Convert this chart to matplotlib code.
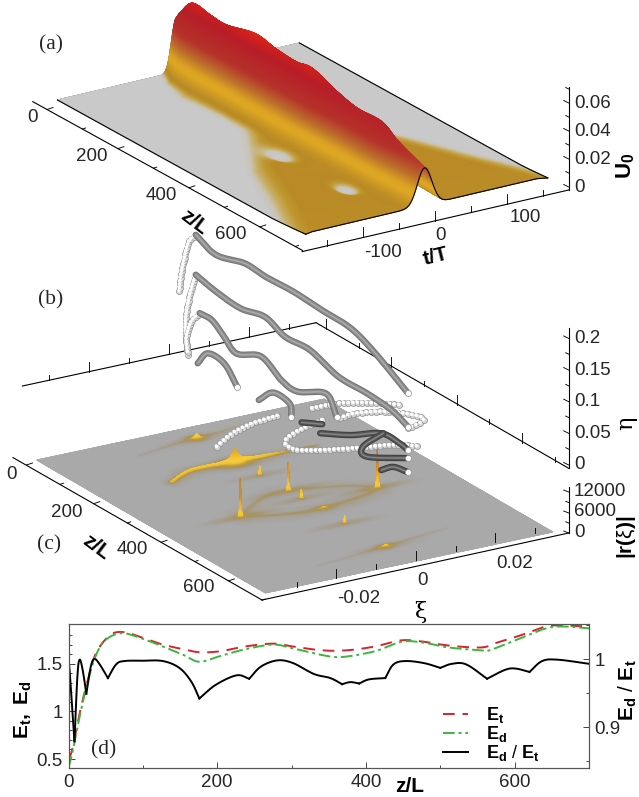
import numpy as np
import matplotlib
matplotlib.use("Agg")
import matplotlib.pyplot as plt
from matplotlib.colors import LinearSegmentedColormap, Normalize
from matplotlib.lines import Line2D

plt.rcParams['font.family'] = ['Liberation Sans', 'DejaVu Sans']
plt.rcParams['mathtext.fontset'] = 'custom'
plt.rcParams['mathtext.rm'] = 'Liberation Sans'
plt.rcParams['mathtext.bf'] = 'Liberation Sans:bold'
plt.rcParams['mathtext.it'] = 'Liberation Sans:italic'

# ---------- (a) soliton surface ----------
a_ridge_z = [0, 15, 46, 94, 140, 221, 278, 336, 382, 451, 508, 577, 623, 692, 700]
a_ridge_U = [.039, .046, .0562, .0545, .0538, .059, .0563, .055, .0567, .0497, .0458, .0458, .038, .030, .0297]
a_sigma_z = [0, 40, 100, 700]
a_sigma = [6.5, 10, 11, 10]
a_wing_z = [0, 40, 100, 200, 270, 350, 430, 550, 700]
a_wing_t = [12, 36, 50, 42, 46, 80, 116, 150, 198]
a_hole_t = [-54, -49]
a_hole_z = [392, 572]
a_hole_st = [17, 14]
a_hole_sz = [42, 30]
a_ticks_z = [0, 200, 400, 600]
a_ticks_t = [-100, 0, 100]
a_ticks_U = [0, .02, .04, .06]

# ---------- (b) eigenvalue tracks (z/L, eta) ----------
tube_1 = ([47, 109, 197, 259, 346, 434, 521, 596, 696], [.211, .198, .211, .209, .211, .208, .206, .189, .156])
beads_1 = ([-3, 1, 9, 25, 47], [.107, .130, .154, .192, .211])
tube_2 = ([47, 109, 184, 259, 321, 396, 484, 571, 646, 696], [.148, .140, .136, .145, .132, .134, .118, .118, .114, .103])
beads_2 = ([22, 16, 28, 47], [.014, .062, .108, .148])
tube_3 = ([59, 97, 134, 172, 247, 309, 359, 446, 478], [.091, .091, .076, .061, .079, .060, .057, .080, .053])
beads_3 = ([22, 19, 34, 59], [.019, .042, .070, .091])
loop_3 = ([434, 346, 321, 371, 521, 646, 733], [.035, -.013, -.036, -.032, .016, .059, .083])
tube_4a = ([53, 84, 134, 174], [.010, .035, .034, .009])
tube_4b = ([240, 284, 334, 340], [.008, .033, .031, .012])
beads_4 = ([297, 222, 159, 109], [.0003, -.034, -.069, -.106])
row_1 = ([403, 484, 571, 671], [.044, .076, .103, .130])
row_2 = ([696, 740, 733, 634, 534, 484], [.100, .124, .130, .108, .075, .052])
dark_e = ([371, 434], [.012, .028])
dark_f = ([428, 521, 615, 671, 696], [.012, .037, .068, .069, .066])
dark_g = ([621, 559, 571, 696], [.070, .030, .018, .053])
dark_h = ([615, 652, 696], [.010, .026, .031])
b_ticks_eta = [0, .05, .1, .15, .2]
b_tick_labels = ['0', '0.05', '0.1', '0.15', '0.2']

# ---------- (c) |r(xi)| peaks (xi, z/L, height, xi width, z width) ----------
c_peak_xi = [-.0168, .0002, .0176, -.0001, .0002, .0003, .0004, .0013, -.0007, 0.0]
c_peak_z = [389, 328, 388, 244, 368, 499, 622, 423, 176, 50]
c_peak_h = [11500, 8500, 11500, 3000, 3000, 2500, 800, 600, 3600, 1500]
c_peak_wx = [.0003, .0003, .0003, .00035, .00035, .00035, .0012, .0011, .0016, .0011]
c_peak_wz = [2, 2, 2, 2.4, 2.4, 2.4, 5, 5, 8, 6]
c_halo = [60, 50, 60, 30, 35, 40, 20, 15, 20, 25]
arc_upper_xi = [-.0168, -.0075, 0, .0125, .0176]
arc_upper_z = [389, 338, 328, 356, 388]
arc_lower_z = [389, 416, 423, 408, 388]
arc_top_xi = [-.0187, -.0112, -.0007, .0057, .0117, .020]
arc_top_z = [200, 172, 176, 177, 176, 176]
arc_top_h = [500, 800, 1000, 800, 350, 40]
faint_back_xi = [-.016, -.006, 0, .006, .016]
faint_back_z = [70, 55, 50, 45, 30]
faint_back_h = [18, 35, 45, 35, 12]
faint_front_xi = [-.018, -.008, .0004, .008, .018]
faint_front_z = [640, 630, 622, 612, 600]
faint_front_h = [10, 22, 50, 30, 8]
c_ticks_xi = [-.02, 0, .02]
c_ticks_z = [0, 200, 400, 600]

# ---------- (d) energies ----------
d_z_t = [0, 5, 15, 26, 37, 56, 75, 100, 127, 155, 176, 204, 237, 275, 302, 341, 374, 412, 448, 478, 511, 555, 576, 609, 642, 664, 700]
E_t = [.50, .60, .98, 1.33, 1.61, 1.80, 1.83, 1.77, 1.70, 1.65, 1.62, 1.63, 1.68, 1.71, 1.68, 1.64, 1.64, 1.68, 1.745, 1.73, 1.69, 1.67, 1.72, 1.80, 1.89, 1.90, 1.89]
d_z_d = [0, 5, 15, 26, 37, 50, 72, 100, 127, 155, 176, 204, 237, 275, 302, 341, 368, 412, 448, 478, 511, 555, 566, 609, 642, 664, 700]
E_d = [.41, .56, .95, 1.31, 1.59, 1.75, 1.82, 1.76, 1.68, 1.59, 1.52, 1.58, 1.65, 1.70, 1.66, 1.59, 1.57, 1.63, 1.73, 1.72, 1.67, 1.64, 1.64, 1.77, 1.87, 1.89, 1.87]
d_z_r = [0, 2, 8, 12, 15, 19, 24, 30, 35, 42, 53, 64, 75, 100, 127, 149, 165, 176, 198, 226, 243, 259, 281, 302, 330, 352, 368, 379, 391, 404, 426, 437, 453, 478, 500, 516, 535, 563, 587, 601, 620, 637, 658, 700]
E_ratio = [1.0, .975, .879, .975, .999, .984, .949, .989, 1.0, .992, .972, .992, .997, .9975, .997, .987, .967, .942, .962, .976, .971, .989, .998, .994, .978, .972, .963, .966, .964, .970, .972, .992, .997, .994, .987, .993, .992, .971, .984, .986, .981, .997, .999, .993]
d_cusps = [8, 24, 53, 176, 243, 368, 391, 426, 500, 563, 620]

TICK_FS = 13.5
BOLD_FS = 15


def smooth(x, y, n=14):
    """Catmull-Rom rendering of a read polyline."""
    p = np.column_stack([x, y]).astype(float)
    p = np.vstack([2 * p[0] - p[1], p, 2 * p[-1] - p[-2]])
    s = np.linspace(0, 1, n, endpoint=False)[:, None]
    out = []
    for i in range(1, len(p) - 2):
        a, b, c, d = p[i - 1], p[i], p[i + 1], p[i + 2]
        out.append(.5 * (2 * b + (c - a) * s + (2 * a - 5 * b + 4 * c - d) * s**2 + (3 * b - a - 3 * c + d) * s**3))
    out.append(p[-2][None, :])
    out = np.vstack(out)
    return out[:, 0], out[:, 1]


fig = plt.figure(figsize=(6.39, 7.97), dpi=100)
ax = fig.add_axes([0, 0, 1, 1])
ax.set_xlim(0, 639)
ax.set_ylim(797, 0)
ax.axis('off')

LW = .8
TXT = '#262626'


# projections of the three oblique 3-D boxes onto the page
def proj_a(t, z, u=0):
    t, z, u = map(np.asarray, (t, z, u))
    return 178.5 + .7203 * t + .3547 * z, 71.5 - .1696 * t + .1957 * z - 1385 * u


def proj_c(xi, z, r=0):
    xi, z, r = map(np.asarray, (xi, z, r))
    return 180.4 + 3992 * xi + .3267 * z, 429.5 - 847 * xi + .19 * z - r * 40 / 12000


def proj_b(z, eta):
    z, eta = map(np.asarray, (z, eta))
    return 180.4 + .3267 * z, 359.5 + .19 * z - 633 * eta


# ---- panel (a)
t = np.linspace(-168, 168, 520)[::-1]
z = np.linspace(0, 700, 420)
T, Z = np.meshgrid(t, z)
zs, us = smooth(a_ridge_z, a_ridge_U, 10)
hgt = np.interp(z, zs, us)
sig = np.interp(z, a_sigma_z, a_sigma)
prof = np.exp(-.5 * ((T + 3) / sig[:, None])**2)
wing = np.interp(z, a_wing_z, a_wing_t)
level = np.interp(z, [0, 300, 700], [.0045, .0035, .0028])
edge = np.clip((wing[:, None] - np.abs(T + 3)) / 42, 0, 1)
U_p = level[:, None] * edge**1.4
for ht, hz, st, sz in zip(a_hole_t, a_hole_z, a_hole_st, a_hole_sz):
    d2 = ((T - ht) / st)**2 + ((Z - hz) / sz)**2
    U_p = U_p * (1 - np.exp(-(d2 / 1.2)**1.6))
U = hgt[:, None] * prof + U_p * (1 - prof)
Px, Py = proj_a(T, Z, U)
stops = [(0, '#c9c9c9'), (.0004, '#c9c4b2'), (.0009, '#c7b068'), (.0018, '#bf982f'), (.003, '#b98a26'), (.011, '#dfa822'),
         (.015, '#dca424'), (.023, '#bb6e2c'), (.033, '#b5322a'), (.05, '#b81e28'), (.056, '#cf201e'), (.065, '#e8381a')]
cm_a = LinearSegmentedColormap.from_list('a', [(s / .065, c) for s, c in stops], N=1024)
ax.plot(Px[0], Py[0], color='k', lw=LW, zorder=1)
ax.pcolormesh(Px, Py, U, shading='gouraud', cmap=cm_a, norm=Normalize(0, .065), zorder=2)
ax.plot(Px[-1], Py[-1], color='k', lw=LW, zorder=3)
ax.plot(Px[:, 0], Py[:, 0], color='k', lw=LW, zorder=3)
ax.plot(Px[:, -1], Py[:, -1], color='k', lw=LW, zorder=3)

# axes of (a)
ax.plot([47 + .3547 * -40, 47 + .3547 * 720], [109.5 + .1957 * -40, 109.5 + .1957 * 720], color='k', lw=LW)
for v in np.arange(0, 720, 100):
    L = 1 if v in a_ticks_z else .55
    xx, yy = 47 + .3547 * v, 109.5 + .1957 * v
    ax.plot([xx, xx + 6 * L], [yy, yy - 2 * L], color='k', lw=LW * .8)
for v, (lx, ly) in zip(a_ticks_z, [(33, 117), (92, 156), (161, 195), (231, 234)]):
    ax.text(lx, ly, str(v), ha='center', va='center', fontsize=TICK_FS, color=TXT)
ax.plot([435.4 + .7203 * -185, 435.4 + .7203 * 185], [220.8 + .2311 * .7203 * 185, 220.8 - .2311 * .7203 * 185], color='k', lw=LW)
for v in np.arange(-150, 151, 50):
    xx, yy = 435.4 + .7203 * v, 220.8 - .1665 * v
    L = 10 if v in a_ticks_t else 6
    ax.plot([xx, xx], [yy, yy - L], color='k', lw=LW * .8)
for v, (lx, ly) in zip(a_ticks_t, [(383, 252), (441, 235), (525, 217)]):
    ax.text(lx, ly, str(v), ha='center', va='center', fontsize=TICK_FS, color=TXT)
ax.plot([568.7, 568.7], [190, 86.7], color='k', lw=LW)
for v in np.arange(0, .0701, .01):
    yy = 187 - 1400 * v
    L = 5 if round(v * 100) % 2 == 0 else 3
    ax.plot([568.7, 568.7 - L], [yy, yy - L * .5], color='k', lw=LW * .8)
for v, ly in zip(a_ticks_U, [187, 159, 131, 103]):
    ax.text(574, ly, f'{v:g}', ha='left', va='center', fontsize=TICK_FS, color=TXT)
ax.text(626, 166, r'$\mathbf{U_0}$', rotation=90, ha='center', va='center', fontsize=BOLD_FS + 1)
ax.text(194, 222, 'z/L', rotation=-37, ha='center', va='center', fontsize=BOLD_FS, fontweight='bold', rotation_mode='anchor')
ax.text(436, 257, 't/T', rotation=14, ha='center', va='center', fontsize=BOLD_FS, fontweight='bold', rotation_mode='anchor')

# ---- panel (c)
xi_base = np.linspace(-.036, .036, 420)
z_base = np.linspace(0, 700, 320)
xi_c = np.unique(np.concatenate([xi_base] + [x + np.linspace(-.004, .004, 81) for x in c_peak_xi]))
xi_c = xi_c[(xi_c >= -.036) & (xi_c <= .036)][::-1]
z_c = np.unique(np.concatenate([z_base] + [v + np.linspace(-20, 20, 41) for v in c_peak_z]))
z_c = z_c[(z_c >= 0) & (z_c <= 700)]
XI, ZC = np.meshgrid(xi_c, z_c)
R = np.zeros_like(XI)
for px, pz, ph, wx, wz, hl in zip(c_peak_xi, c_peak_z, c_peak_h, c_peak_wx, c_peak_wz, c_halo):
    rr = np.sqrt(((XI - px) / wx)**2 + ((ZC - pz) / wz)**2)
    R = R + ph * np.exp(-2.2 * rr) if wx < .001 else R + ph * np.exp(-1.6 * rr)
    R = R + hl * np.exp(-((XI - px) / .0068)**2 - ((ZC - pz) / 9)**2)


def add_arc(xs, zs, hs, w, halo):
    global R
    sx, sz = smooth(xs, zs, 30)
    _, sh = smooth(xs, hs, 30)
    top = np.zeros_like(R)
    for a, b, h in zip(sx, sz, sh):
        dd = ((XI - a) / .00025)**2 + ((ZC - b) / 3.)**2
        top = np.maximum(top, max(h, 0) * (np.exp(-dd / w**2) + halo * np.exp(-dd / (5 * w)**2)))
    R = R + top


add_arc(arc_upper_xi, arc_upper_z, [42] * 5, 1.6, .35)
add_arc(arc_upper_xi, arc_lower_z, [55] * 5, 1.6, .35)
add_arc(arc_top_xi, arc_top_z, arc_top_h, 1.2, .05)
add_arc(faint_back_xi, faint_back_z, faint_back_h, 1.0, .2)
add_arc(faint_front_xi, faint_front_z, faint_front_h, 1.0, .2)
Cx, Cy = proj_c(XI, ZC, R)
stops_c = [(0, '#a9a9a9'), (20, '#a6a196'), (70, '#a99568'), (180, '#bf9a44'), (450, '#eebf34'), (1000, '#f6d040'), (3000, '#f0b624'),
           (6000, '#d98c22'), (9000, '#b8603c'), (12000, '#6e6060')]
cm_c = LinearSegmentedColormap.from_list('c', [(s / 12000, c) for s, c in stops_c], N=4096)
ax.pcolormesh(Cx, Cy, R, shading='gouraud', cmap=cm_c, norm=Normalize(0, 12000), zorder=4)

# axes of (c)
ax.plot([13, 262], [457.6, 600], color='k', lw=LW, zorder=4)
ax.plot([262, 568.7], [600, 533], color='k', lw=LW, zorder=4)
ax.plot([568.7, 568.7], [533, 487], color='k', lw=LW, zorder=4)
for v in np.arange(0, 701, 100):
    xx, yy = 26.5 + .3365 * v, 465 + .186 * v + (5 * v / 700)
    L = 1 if v in c_ticks_z else .55
    ax.plot([xx, xx + 6 * L], [yy, yy - 2 * L], color='k', lw=LW * .8, zorder=4)
for v, (lx, ly) in zip(c_ticks_z, [(11.4, 474), (66.4, 512.7), (132.5, 550), (198.5, 588)]):
    ax.text(lx, ly, str(v), ha='center', va='center', fontsize=TICK_FS, color=TXT)
for v in np.arange(-.03, .0301, .01):
    xx, yy = 415.8 + 3975 * v, 560 - 915 * v
    L = 9 if round(v * 100) % 2 == 0 else 5
    ax.plot([xx, xx], [yy, yy - L], color='k', lw=LW * .8, zorder=4)
for v, (lx, ly) in zip(c_ticks_xi, [(358.7, 598.3), (422, 580.7), (515, 563.3)]):
    ax.text(lx, ly, f'{v:g}', ha='center', va='center', fontsize=TICK_FS, color=TXT)
for v, yy in zip([0, 3000, 6000, 9000, 12000], [533, 523, 513, 502.5, 492]):
    L = 5 if v % 6000 == 0 else 3
    ax.plot([568.7, 568.7 - L], [yy, yy - L * .4], color='k', lw=LW * .8, zorder=4)
ax.text(574, 532.7, '0', ha='left', va='center', fontsize=TICK_FS, color=TXT)
ax.text(574, 511.7, '6000', ha='left', va='center', fontsize=TICK_FS, color=TXT)
ax.text(574, 491.7, '12000', ha='left', va='center', fontsize=TICK_FS, color=TXT)
ax.text(627, 537, r'$\mathbf{|r(}$ξ$\mathbf{)|}$', rotation=90, ha='center', va='center', fontsize=BOLD_FS)
ax.text(96, 547, 'z/L', rotation=-37, ha='center', va='center', fontsize=BOLD_FS, fontweight='bold', rotation_mode='anchor')
ax.text(420, 612, 'ξ', ha='center', va='center', fontsize=16, family=['DejaVu Serif'], zorder=21)

# axes frame of (b)
ax.plot([22.4, 316], [386, 322.7], color='k', lw=LW, zorder=3)
for v in np.arange(-.03, .0301, .01):
    xx, yy = 169.2 + 3992 * v, 354.3 - 860 * v
    L = 10 if round(v * 100) % 2 == 0 else 5
    ax.plot([xx, xx], [yy, yy - L], color='k', lw=LW * .8, zorder=3)
ax.plot([316, 568.7], [322.7, 468.3], color='k', lw=LW, zorder=3)
for v in np.arange(0, 701, 100):
    xx, yy = 326 + .3267 * v, 328.5 + .19 * v
    L = 10 if round(v) % 200 == 0 else 5
    ax.plot([xx, xx], [yy, yy - L], color='k', lw=LW * .8, zorder=3)
ax.plot([568.7, 568.7], [468.3, 328.3], color='k', lw=LW, zorder=3)
for v in np.arange(0, .2101, .025):
    yy = 465 - 633 * v
    L = 5 if round(v * 1000) % 50 == 0 else 3
    ax.plot([568.7, 568.7 - L], [yy, yy - L * .5], color='k', lw=LW * .8, zorder=3)
for v, s, ly in zip(b_ticks_eta, b_tick_labels, [464.3, 433.3, 401.7, 370, 338.3]):
    ax.text(574, ly, s, ha='left', va='center', fontsize=TICK_FS, color=TXT)
ax.text(626, 423, 'η', rotation=90, ha='center', va='center', fontsize=16, family=['DejaVu Serif'])


# tracks of (b)
def draw_beads(curve, spacing=4.6, zo=6):
    x, y = proj_b(*curve)
    x, y = smooth(x, y, 30)
    s = np.r_[0, np.cumsum(np.hypot(np.diff(x), np.diff(y)))]
    q = np.arange(0, s[-1], spacing)
    qx, qy = np.interp(q, s, x), np.interp(q, s, y)
    ax.scatter(qx, qy, s=19, facecolor='#d4d4d4', edgecolor='#909090', linewidths=.5, zorder=zo)
    ax.scatter(qx - .4, qy - .4, s=7, facecolor='white', edgecolor='none', zorder=zo)


def draw_tube(curve, tone=('#747474', '#8a8a8a', '#ababab'), end=True, zo=7):
    x, y = proj_b(*curve)
    x, y = smooth(x, y, 20)
    for c, lw in zip(tone, (4.6, 3.2, 1.1)):
        ax.plot(x, y, color=c, lw=lw, solid_capstyle='round', solid_joinstyle='round', zorder=zo)
    if end:
        ax.scatter(x[[-1]], y[[-1]], s=19, facecolor='white', edgecolor='#909090', linewidths=.5, zorder=zo + .1)


dark = ('#3e3e3e', '#555555', '#858585')
for b in (beads_1, beads_2, beads_3):
    draw_beads(b, spacing=3.4)
for b in (beads_4, row_1, row_2, loop_3):
    draw_beads(b)
for tb in (tube_1, tube_2, tube_3, tube_4a, tube_4b):
    draw_tube(tb)
for tb in (dark_e, dark_f, dark_g, dark_h):
    draw_tube(tb, tone=dark, end=tb is not dark_e, zo=8)

# panel letters
for s, lx, ly in [('(a)', 51, 45), ('(b)', 51, 300), ('(c)', 49, 545)]:
    ax.text(lx, ly, s, ha='center', va='center', fontsize=15.5, family=['Liberation Serif'], color=TXT)

# ---- panel (d)
W, H = 639., 797.
axd = fig.add_axes([68.5 / W, 1 - 768 / H, (589 - 68.5) / W, (768 - 624) / H])
axd.patch.set_alpha(0)
axd.set_xlim(0, 700)
axd.set_ylim(.406, 1.916)
sx, sy = smooth(d_z_t, E_t, 8)
axd.plot(sx, sy, color='#d8232e', lw=1.4, dashes=(6, 4))
sx, sy = smooth(d_z_d, E_d, 8)
axd.plot(sx, sy, color='#3db43c', lw=1.4, dashes=(6, 2, 1.5, 2))
axd.set_xticks([0, 200, 400, 600])
axd.set_xticks(np.arange(100, 700, 200), minor=True)
axd.set_yticks([.5, 1, 1.5])
axd.set_yticklabels(['0.5', '1', '1.5'])
axd.set_yticks(np.arange(.5, 1.9, .1), minor=True)
axd.tick_params(axis='both', which='major', direction='in', length=4, width=.6, labelsize=TICK_FS, colors=TXT, pad=4)
axd.tick_params(axis='both', which='minor', direction='in', length=2, width=.5)
for sp in axd.spines.values():
    sp.set_linewidth(.8)
    sp.set_color('#555555')
axr = axd.twinx()
axr.set_ylim(.8397, 1.0515)
zr, er = np.array(d_z_r, float), np.array(E_ratio, float)
splits = [0] + [int(np.argmin(np.abs(zr - c))) for c in d_cusps] + [len(zr) - 1]
for i0, i1 in zip(splits[:-1], splits[1:]):
    sx, sy = smooth(zr[i0:i1 + 1], er[i0:i1 + 1], 8)
    axr.plot(sx, sy, color='k', lw=1.4)
axr.set_yticks([.9, 1])
axr.set_yticklabels(['0.9', '1'])
axr.set_yticks(np.arange(.85, 1.05, .05), minor=True)
axr.tick_params(axis='y', which='major', direction='in', length=4, width=.6, labelsize=TICK_FS, colors=TXT, pad=4)
axr.tick_params(axis='y', which='minor', direction='in', length=2, width=.5)
for sp in axr.spines.values():
    sp.set_linewidth(.8)
    sp.set_color('#555555')
handles = [Line2D([], [], color='#d8232e', lw=1.4, dashes=(6, 4)),
           Line2D([], [], color='#3db43c', lw=1.4, dashes=(6, 2, 1.5, 2)),
           Line2D([], [], color='k', lw=1.4)]
labels = [r'$\mathbf{E_t}$', r'$\mathbf{E_d}$', r'$\mathbf{E_d}$ / $\mathbf{E_t}$']
axr.legend(handles, labels, loc='lower left', bbox_to_anchor=(432 / W, 1 - 774 / H), bbox_transform=fig.transFigure,
           frameon=False, fontsize=13, handlelength=1.4, handletextpad=1.0, labelspacing=-.05, borderpad=.1)
ax.text(104, 750, '(d)', ha='center', va='center', fontsize=15.5, family=['Liberation Serif'], color=TXT, zorder=20)
ax.text(410, 787, 'z/L', ha='center', va='center', fontsize=BOLD_FS, fontweight='bold')
ax.text(23, 710, r'$\mathbf{E_t,\ E_d}$', rotation=90, ha='center', va='center', fontsize=BOLD_FS)
ax.text(628, 690, r'$\mathbf{E_d}$ / $\mathbf{E_t}$', rotation=90, ha='center', va='center', fontsize=BOLD_FS)
ax.set_zorder(5)
ax.patch.set_alpha(0)

fig.savefig('out.png', dpi=100)
